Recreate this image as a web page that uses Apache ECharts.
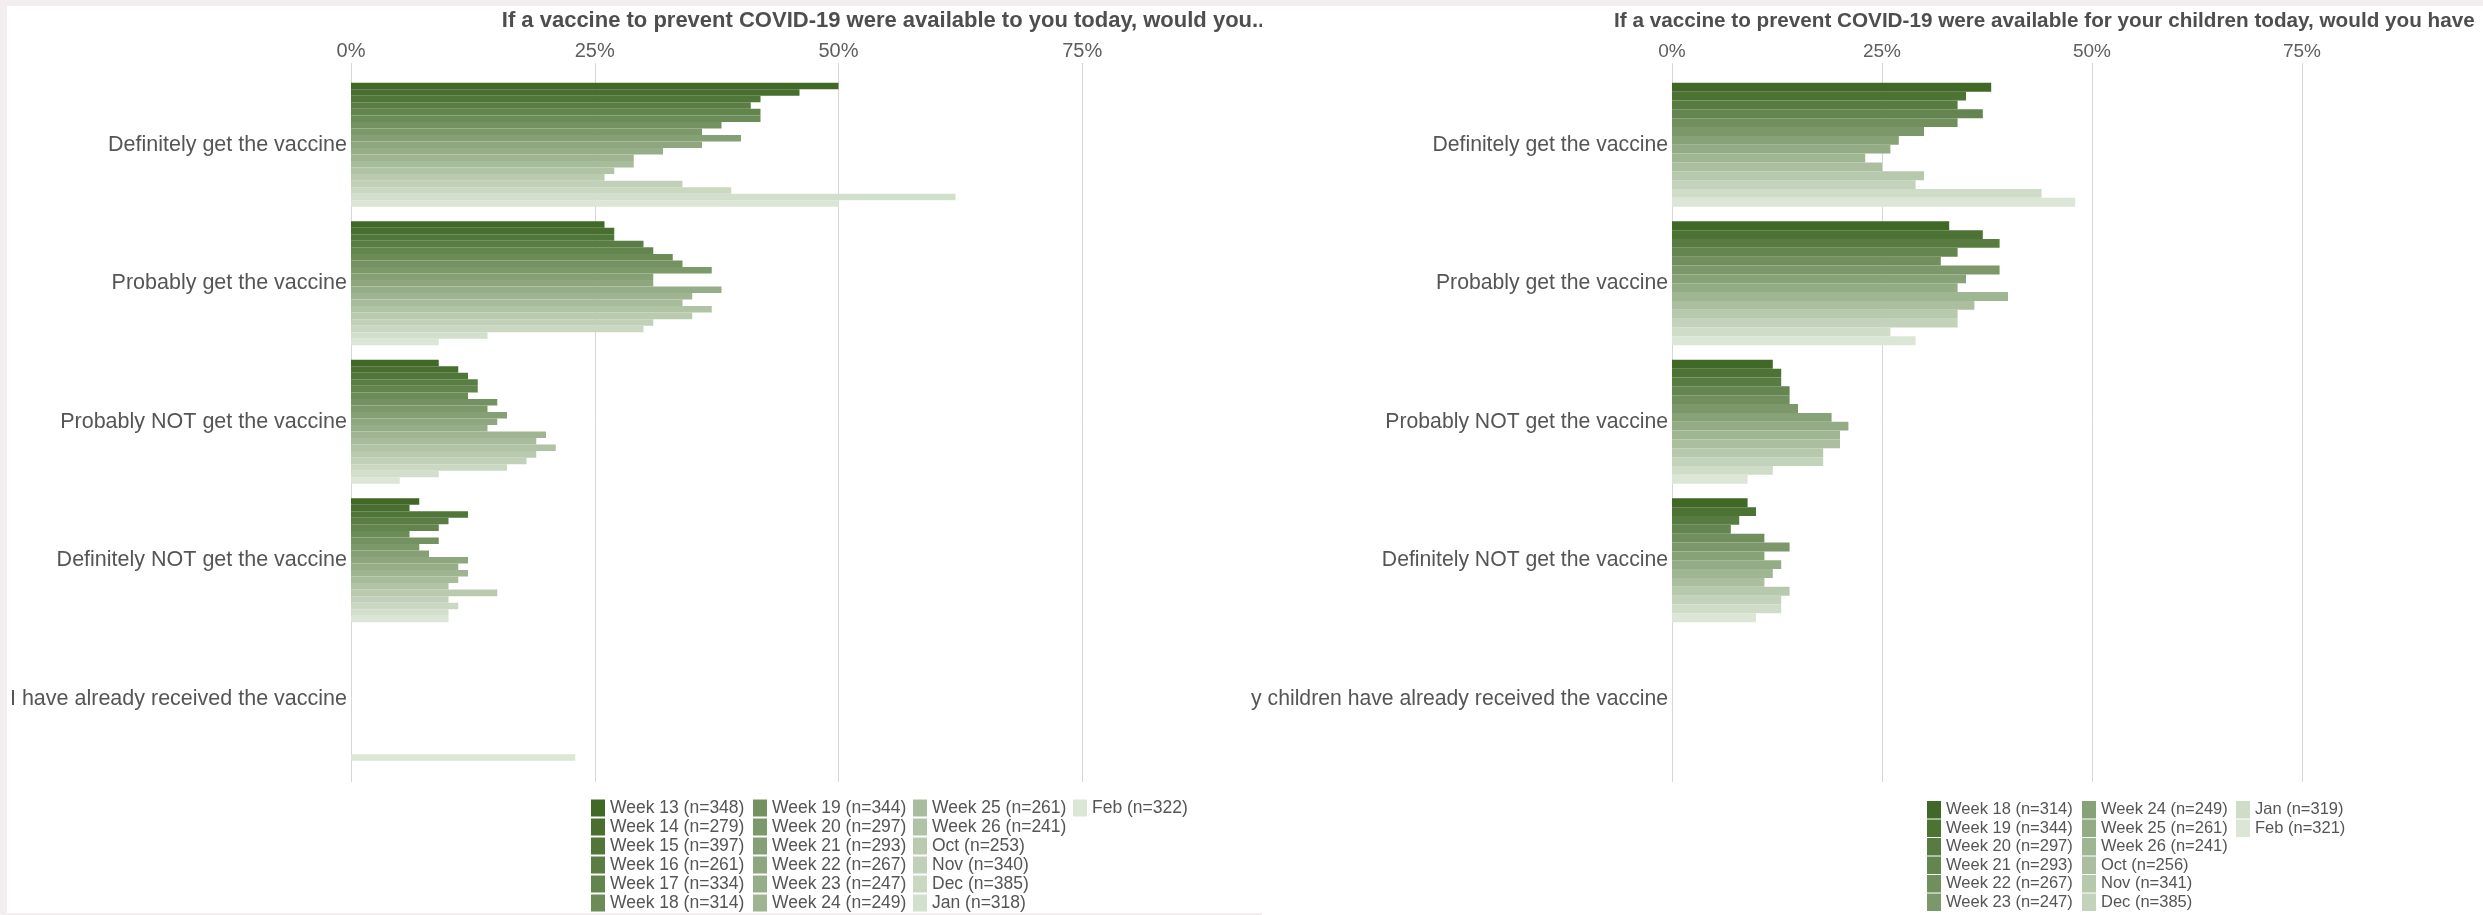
<!DOCTYPE html>
<html><head><meta charset="utf-8">
<script src="https://cdn.jsdelivr.net/npm/echarts@6/dist/echarts.min.js"></script>
<style>
html,body{margin:0;padding:0;width:2483px;height:915px;background:#f2edee;overflow:hidden;}
#bgL{position:absolute;left:7px;top:6px;width:1255px;height:907px;background:#fff;}
#bgR{position:absolute;left:1262px;top:6px;width:1221px;height:909px;background:#fff;}
#wrapL{position:absolute;left:7px;top:6px;width:1255px;height:907px;overflow:hidden;}
#wrapR{position:absolute;left:1251px;top:6px;width:1232px;height:909px;overflow:hidden;}
#left{width:1420px;height:907px;}
#right{width:1360px;height:909px;}
</style></head><body>
<div id="bgL"></div><div id="bgR"></div>
<div id="wrapL"><div id="left"></div></div>
<div id="wrapR"><div id="right"></div></div>
<script>
// ---------- data ----------
const tickValues = [0, 25, 50, 75];

const titleAdults = 'If a vaccine to prevent COVID-19 were available to you today, would you..';
const categoriesAdults = ['Definitely get the vaccine', 'Probably get the vaccine', 'Probably NOT get the vaccine', 'Definitely NOT get the vaccine', 'I have already received the vaccine'];
const wavesAdults = ['Week 13 (n=348)', 'Week 14 (n=279)', 'Week 15 (n=397)', 'Week 16 (n=261)', 'Week 17 (n=334)', 'Week 18 (n=314)',
  'Week 19 (n=344)', 'Week 20 (n=297)', 'Week 21 (n=293)', 'Week 22 (n=267)', 'Week 23 (n=247)', 'Week 24 (n=249)',
  'Week 25 (n=261)', 'Week 26 (n=241)', 'Oct (n=253)', 'Nov (n=340)', 'Dec (n=385)', 'Jan (n=318)', 'Feb (n=322)'];
const adultsDefinitelyGet = [50, 46, 42, 41, 42, 42, 38, 36, 40, 36, 32, 29, 29, 27, 26, 34, 39, 62, 50];
const adultsProbablyGet   = [26, 27, 27, 30, 31, 33, 34, 37, 31, 31, 38, 35, 34, 37, 35, 31, 30, 14, 9];
const adultsProbablyNot   = [9, 11, 12, 13, 13, 12, 15, 14, 16, 15, 14, 20, 19, 21, 19, 18, 16, 9, 5];
const adultsDefinitelyNot = [7, 6, 12, 10, 9, 6, 9, 7, 8, 12, 11, 12, 11, 10, 15, 10, 11, 10, 10];
const adultsReceived      = [null, null, null, null, null, null, null, null, null, null, null, null, null, null, null, null, null, null, 23];

const titleChildren = 'If a vaccine to prevent COVID-19 were available for your children today, would you have';
const categoriesChildren = ['Definitely get the vaccine', 'Probably get the vaccine', 'Probably NOT get the vaccine', 'Definitely NOT get the vaccine', 'My children have already received the vaccine'];
const wavesChildren = ['Week 18 (n=314)', 'Week 19 (n=344)', 'Week 20 (n=297)', 'Week 21 (n=293)', 'Week 22 (n=267)', 'Week 23 (n=247)',
  'Week 24 (n=249)', 'Week 25 (n=261)', 'Week 26 (n=241)', 'Oct (n=256)', 'Nov (n=341)', 'Dec (n=385)', 'Jan (n=319)', 'Feb (n=321)'];
const childrenDefinitelyGet = [38, 35, 34, 37, 34, 30, 27, 26, 23, 25, 30, 29, 44, 48];
const childrenProbablyGet   = [33, 37, 39, 34, 32, 39, 35, 34, 40, 36, 34, 34, 26, 29];
const childrenProbablyNot   = [12, 13, 13, 14, 14, 15, 19, 21, 20, 20, 18, 18, 12, 9];
const childrenDefinitelyNot = [9, 10, 8, 7, 11, 14, 11, 13, 12, 11, 14, 13, 13, 10];
const childrenReceived      = [null, null, null, null, null, null, null, null, null, null, null, null, null, null];

// ---------- style ----------
const FONT = '"Liberation Sans", Arial, Helvetica, sans-serif';
const DARK = [0x40, 0x68, 0x26], LIGHT = [0xdb, 0xe6, 0xd6];
function palette(n) {
  const out = [];
  for (let i = 0; i < n; i++) {
    const t = n === 1 ? 0 : i / (n - 1);
    const c = DARK.map((d, k) => Math.round(d + (LIGHT[k] - d) * t));
    out.push('rgb(' + c.join(',') + ')');
  }
  return out;
}

function buildOption(p) {
  const colors = palette(p.waves.length);
  const series = p.waves.map((w, i) => ({
    name: w, type: 'bar', xAxisIndex: 0, yAxisIndex: 0,
    data: p.rows.map(r => r[i]),
    itemStyle: { color: colors[i] },
    barGap: '0%', barCategoryGap: '10.5%',
    silent: true
  }));
  const legends = p.legendCols.map((x, c) => ({
    orient: 'vertical', left: x, top: p.legendTop, padding: 0,
    itemWidth: 14, itemHeight: p.legendRow - 1, itemGap: 1, icon: 'rect', selectedMode: false,
    textStyle: { fontSize: p.legendSize, color: '#555555', fontFamily: FONT },
    data: p.waves.slice(c * 6, c * 6 + 6)
  }));
  return {
    animation: false,
    textStyle: { fontFamily: FONT },
    graphic: [{
      type: 'text', x: p.titleX, y: 15,
      style: { text: p.title, fontFamily: FONT, fontSize: p.titleSize, fontWeight: 'bold', fill: '#4e4e4e',
               align: p.titleAlign, verticalAlign: 'middle' }
    }],
    grid: [
      { left: p.plotLeft, top: 69.5, width: p.plotWidth, height: 692.5, containLabel: false, outerBoundsMode: 'none' },
      { left: p.plotLeft, top: 57, width: p.plotWidth, height: 719, containLabel: false, outerBoundsMode: 'none' }
    ],
    xAxis: [
      { gridIndex: 0, type: 'value', min: 0, max: 100, show: false },
      { gridIndex: 1, type: 'value', min: 0, max: 100, interval: 25, position: 'top',
        axisLine: { show: false }, axisTick: { show: false },
        splitLine: { show: true, lineStyle: { color: '#d6d6d6', width: 1 } },
        axisLabel: { margin: 2, fontSize: p.tickSize, color: '#5e5e5e', fontFamily: FONT,
          formatter: v => tickValues.indexOf(v) >= 0 ? v + '%' : '' } }
    ],
    yAxis: [
      { gridIndex: 0, type: 'category', data: p.categories, inverse: true,
        axisLine: { show: false }, axisTick: { show: false }, splitLine: { show: false },
        axisLabel: { margin: 4, fontSize: p.labelSize, color: '#555555', fontFamily: FONT } },
      { gridIndex: 1, type: 'value', show: false }
    ],
    legend: legends,
    series
  };
}

const leftChart = echarts.init(document.getElementById('left'), null, { renderer: 'canvas' });
leftChart.setOption(buildOption({
  title: titleAdults, titleX: 876, titleAlign: 'center', titleSize: 22,
  categories: categoriesAdults, waves: wavesAdults,
  rows: [adultsDefinitelyGet, adultsProbablyGet, adultsProbablyNot, adultsDefinitelyNot, adultsReceived],
  plotLeft: 344, plotWidth: 975, tickSize: 20, labelSize: 21.5,
  legendCols: [584, 746, 906, 1066], legendTop: 793, legendRow: 18, legendSize: 17.5
}));

const rightChart = echarts.init(document.getElementById('right'), null, { renderer: 'canvas' });
rightChart.setOption(buildOption({
  title: titleChildren, titleX: 363, titleAlign: 'left', titleSize: 20.7,
  categories: categoriesChildren, waves: wavesChildren,
  rows: [childrenDefinitelyGet, childrenProbablyGet, childrenProbablyNot, childrenDefinitelyNot, childrenReceived],
  plotLeft: 421, plotWidth: 840, tickSize: 19, labelSize: 21.2,
  legendCols: [676, 831, 985], legendTop: 795, legendRow: 18.5, legendSize: 16.5
}));
</script>
</body></html>
